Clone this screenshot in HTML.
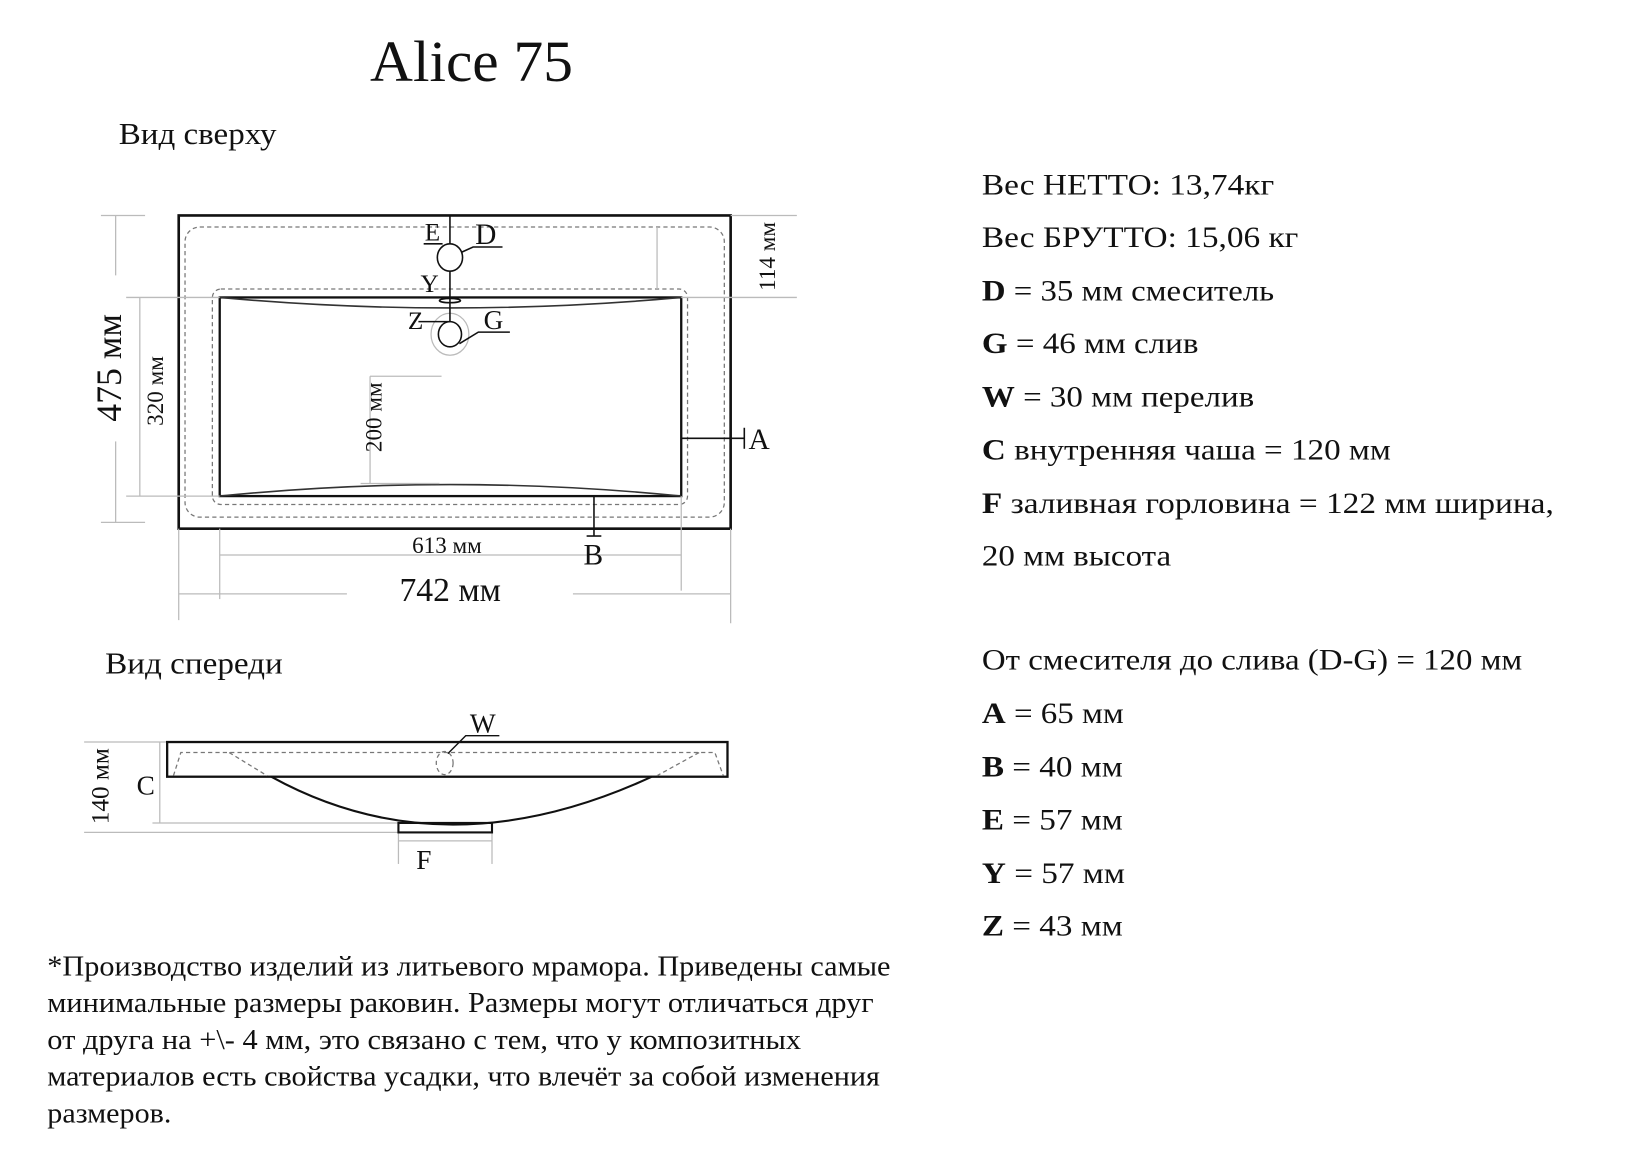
<!DOCTYPE html>
<html><head><meta charset="utf-8"><style>
html,body{margin:0;padding:0;background:#fff;}
svg{display:block}
text{font-family:"Liberation Serif","Noto Serif CJK SC",serif;fill:#111}
</style></head><body>
<svg width="1640" height="1174" viewBox="0 0 1560 1117" preserveAspectRatio="none" xmlns="http://www.w3.org/2000/svg">
<rect width="1560" height="1117" fill="#fff"/>
<text x="352" y="77" font-size="55" textLength="193" lengthAdjust="spacingAndGlyphs">Alice 75</text>
<text x="113" y="137" font-size="29" textLength="150" lengthAdjust="spacingAndGlyphs">Вид сверху</text>

<!-- top view -->
<g fill="none">
<rect x="170" y="205" width="525" height="298" stroke="#111" stroke-width="2.5"/>
<rect x="176" y="216" width="513" height="276" rx="14" stroke="#777" stroke-width="1.2" stroke-dasharray="4,3"/>
<rect x="202" y="275" width="452" height="205" rx="8" stroke="#777" stroke-width="1.2" stroke-dasharray="4,3"/>
<rect x="209" y="283" width="439" height="189" stroke="#111" stroke-width="2.2"/>
<path d="M209 283 Q428 303 648 283" stroke="#333" stroke-width="1.5"/>
<path d="M209 472 Q428 450 648 472" stroke="#333" stroke-width="1.5"/>
<g stroke="#bbb" stroke-width="1.2">
<line x1="96" y1="205" x2="138" y2="205"/><line x1="96" y1="497" x2="138" y2="497"/>
<line x1="110" y1="205" x2="110" y2="262"/><line x1="110" y1="420" x2="110" y2="497"/>
<line x1="120" y1="283" x2="209" y2="283"/><line x1="120" y1="472" x2="209" y2="472"/>
<line x1="133" y1="283" x2="133" y2="472"/>
<line x1="352" y1="358" x2="420" y2="358"/><line x1="352" y1="358" x2="352" y2="460"/>
<line x1="343" y1="460" x2="418" y2="460"/>
<line x1="695" y1="205" x2="758" y2="205"/><line x1="648" y1="283" x2="758" y2="283"/>
<line x1="625" y1="216" x2="625" y2="275"/>
<line x1="209" y1="503" x2="209" y2="570"/><line x1="648" y1="472" x2="648" y2="562"/>
<line x1="209" y1="528" x2="648" y2="528"/>
<line x1="170" y1="503" x2="170" y2="590"/><line x1="695" y1="503" x2="695" y2="593"/>
<line x1="170" y1="565" x2="330" y2="565"/><line x1="545" y1="565" x2="695" y2="565"/>
</g>
<ellipse cx="428" cy="318" rx="18" ry="20" stroke="#bbb" stroke-width="1.2"/>
<g stroke="#111" stroke-width="1.5">
<line x1="428" y1="205" x2="428" y2="232"/><line x1="428" y1="258" x2="428" y2="306"/>
<ellipse cx="428" cy="245" rx="12" ry="13"/>
<ellipse cx="428" cy="318" rx="11" ry="12"/>
<ellipse cx="428" cy="286" rx="10" ry="2"/>
<line x1="403" y1="232" x2="421" y2="232"/>
<polyline points="439,240 450,235 478,235"/>
<line x1="398" y1="283" x2="428" y2="283"/>
<line x1="398" y1="306" x2="428" y2="306"/>
<polyline points="437,327 455,316 485,316"/>
<line x1="648" y1="417" x2="708" y2="417"/><line x1="708" y1="407" x2="708" y2="427"/>
<line x1="565" y1="472" x2="565" y2="510"/><line x1="558" y1="510" x2="572" y2="510"/>
</g>
</g>
<text x="404" y="229" font-size="24">E</text>
<text x="452" y="232" font-size="28">D</text>
<text x="400" y="278" font-size="24">Y</text>
<text x="388" y="313" font-size="24">Z</text>
<text x="460" y="313" font-size="26">G</text>
<text x="712" y="427" font-size="28">A</text>
<text x="555" y="537" font-size="28">B</text>
<text x="392" y="526" font-size="22">613 мм</text>
<text x="380" y="572" font-size="32">742 мм</text>
<text transform="translate(115,350) rotate(-90)" text-anchor="middle" font-size="34">475 мм</text>
<text transform="translate(155,372) rotate(-90)" text-anchor="middle" font-size="22">320 мм</text>
<text transform="translate(363,397) rotate(-90)" text-anchor="middle" font-size="22">200 мм</text>
<text transform="translate(737,244) rotate(-90)" text-anchor="middle" font-size="22">114 мм</text>

<text x="100" y="641" font-size="29" textLength="169" lengthAdjust="spacingAndGlyphs">Вид спереди</text>

<!-- front view -->
<g fill="none">
<g stroke="#bbb" stroke-width="1.2">
<line x1="80" y1="706" x2="158" y2="706"/>
<line x1="80" y1="792" x2="379" y2="792"/>
<line x1="152" y1="706" x2="152" y2="783"/>
<line x1="145" y1="783" x2="379" y2="783"/>
<line x1="379" y1="792" x2="379" y2="822"/><line x1="468" y1="792" x2="468" y2="822"/>
<line x1="379" y1="800" x2="468" y2="800"/>
</g>
<rect x="159" y="706" width="533" height="33" stroke="#111" stroke-width="2.2"/>
<g stroke="#777" stroke-width="1.2" stroke-dasharray="4,3">
<polyline points="165,738 172,716 680,716 688,738"/>
<line x1="218" y1="716" x2="254" y2="738"/>
<line x1="665" y1="716" x2="625" y2="738"/>
<ellipse cx="423" cy="726" rx="8" ry="11"/>
</g>
<path d="M258 739 Q423 830 620 739" stroke="#111" stroke-width="2"/>
<rect x="379" y="783" width="89" height="9" stroke="#111" stroke-width="2"/>
<polyline points="426,717 443,700 475,700" stroke="#111" stroke-width="1.3"/>
</g>
<text x="447" y="697" font-size="26">W</text>
<text x="130" y="756" font-size="26">C</text>
<text x="396" y="827" font-size="26">F</text>
<text transform="translate(103,748) rotate(-90)" text-anchor="middle" font-size="24">140 мм</text>

<g font-size="28">
<text x="934" y="185" textLength="278" lengthAdjust="spacingAndGlyphs">Вес НЕТТО: 13,74кг</text>
<text x="934" y="235" textLength="301" lengthAdjust="spacingAndGlyphs">Вес БРУТТО: 15,06 кг</text>
<text x="934" y="286" textLength="278" lengthAdjust="spacingAndGlyphs"><tspan font-weight="bold">D</tspan> = 35 мм смеситель</text>
<text x="934" y="336" textLength="206" lengthAdjust="spacingAndGlyphs"><tspan font-weight="bold">G</tspan> = 46 мм слив</text>
<text x="934" y="387" textLength="259" lengthAdjust="spacingAndGlyphs"><tspan font-weight="bold">W</tspan> = 30 мм перелив</text>
<text x="934" y="437" textLength="389" lengthAdjust="spacingAndGlyphs"><tspan font-weight="bold">C</tspan> внутренняя чаша = 120 мм</text>
<text x="934" y="488" textLength="544" lengthAdjust="spacingAndGlyphs"><tspan font-weight="bold">F</tspan> заливная горловина = 122 мм ширина,</text>
<text x="934" y="538" textLength="180" lengthAdjust="spacingAndGlyphs">20 мм высота</text>
<text x="934" y="637" textLength="514" lengthAdjust="spacingAndGlyphs">От смесителя до слива (D-G) = 120 мм</text>
<text x="934" y="688" textLength="135" lengthAdjust="spacingAndGlyphs"><tspan font-weight="bold">A</tspan> = 65 мм</text>
<text x="934" y="739" textLength="134" lengthAdjust="spacingAndGlyphs"><tspan font-weight="bold">B</tspan> = 40 мм</text>
<text x="934" y="789" textLength="134" lengthAdjust="spacingAndGlyphs"><tspan font-weight="bold">E</tspan> = 57 мм</text>
<text x="934" y="840" textLength="136" lengthAdjust="spacingAndGlyphs"><tspan font-weight="bold">Y</tspan> = 57 мм</text>
<text x="934" y="890" textLength="134" lengthAdjust="spacingAndGlyphs"><tspan font-weight="bold">Z</tspan> = 43 мм</text>
</g>

<g font-size="27">
<text x="45" y="928" textLength="802" lengthAdjust="spacingAndGlyphs">*Производство изделий из литьевого мрамора. Приведены самые</text>
<text x="45" y="963" textLength="786" lengthAdjust="spacingAndGlyphs">минимальные размеры раковин. Размеры могут отличаться друг</text>
<text x="45" y="998" textLength="717" lengthAdjust="spacingAndGlyphs">от друга на +\- 4 мм, это связано с тем, что у композитных</text>
<text x="45" y="1033" textLength="792" lengthAdjust="spacingAndGlyphs">материалов есть свойства усадки, что влечёт за собой изменения</text>
<text x="45" y="1068" textLength="118" lengthAdjust="spacingAndGlyphs">размеров.</text>
</g>
</svg>
</body></html>
